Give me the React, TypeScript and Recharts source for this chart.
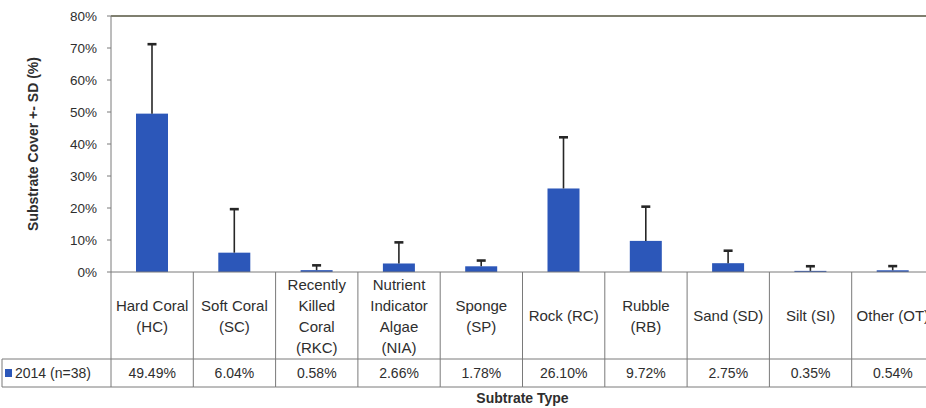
import { BarChart, Bar, XAxis, YAxis, ReferenceLine } from 'recharts'

// substrate categories, drawn as stacked lines in the table header row
const categoryLines: string[][] = [
  ['Hard Coral', '(HC)'],
  ['Soft Coral', '(SC)'],
  ['Recently', 'Killed', 'Coral', '(RKC)'],
  ['Nutrient', 'Indicator', 'Algae', '(NIA)'],
  ['Sponge', '(SP)'],
  ['Rock (RC)'],
  ['Rubble', '(RB)'],
  ['Sand (SD)'],
  ['Silt (SI)'],
  ['Other (OT)'],
]
const coverPct = [49.49, 6.04, 0.58, 2.66, 1.78, 26.10, 9.72, 2.75, 0.35, 0.54]
const sdPct = [21.7, 13.6, 1.5, 6.6, 1.8, 16.0, 10.7, 3.9, 1.45, 1.3]
const yTicks = [0, 10, 20, 30, 40, 50, 60, 70, 80]
const seriesName = '2014 (n=38)'

const data = categoryLines.map((lines, i) => ({
  name: lines.join(' '),
  lines,
  value: coverPct[i],
  sd: sdPct[i],
}))

const FONT = '"Liberation Sans", Arial, sans-serif'
const TEXT = '#2e2e2e'
const GRID = '#7a7a7a'
const BAR = '#2c57b9'

const W = 940
const H = 408
const PLOT_LEFT = 111
const PLOT_RIGHT = 934
const PLOT_TOP = 16
const PLOT_BOTTOM = 272
const HEAD_BOTTOM = 359
const TABLE_BOTTOM = 387
const BAND = (PLOT_RIGHT - PLOT_LEFT) / categoryLines.length

// bar plus an upward-only SD whisker, scaled from the bar's own pixel height
const BarWithSd = (props: any) => {
  const { x, y, width, height, payload } = props
  const perUnit = payload.value > 0 ? height / payload.value : 0
  const top = y - payload.sd * perUnit
  const cx = x + width / 2
  return (
    <g>
      <rect x={x} y={y} width={width} height={height} fill={BAR} />
      <line x1={cx} x2={cx} y1={y} y2={top} stroke="#262626" strokeWidth={1.6} />
      <line x1={cx - 4.5} x2={cx + 4.5} y1={top} y2={top} stroke="#262626" strokeWidth={2.6} />
    </g>
  )
}

// each x tick renders one column of the data table under the plot
const TableTick = (props: any) => {
  const { x, payload } = props
  const d = data[payload.index]
  const left = x - BAND / 2
  const right = x + BAND / 2
  const lineH = 21
  const headMid = (PLOT_BOTTOM + HEAD_BOTTOM) / 2
  const firstY = headMid - ((d.lines.length - 1) * lineH) / 2
  const valueY = (HEAD_BOTTOM + TABLE_BOTTOM) / 2
  return (
    <g fontFamily={FONT} fontSize={14} fill={TEXT}>
      {payload.index === 0 && (
        <g>
          <line x1={left} x2={left} y1={PLOT_BOTTOM} y2={TABLE_BOTTOM} stroke={GRID} />
          <line x1={2} x2={left} y1={HEAD_BOTTOM} y2={HEAD_BOTTOM} stroke={GRID} />
          <line x1={2} x2={left} y1={TABLE_BOTTOM} y2={TABLE_BOTTOM} stroke={GRID} />
          <line x1={2} x2={2} y1={HEAD_BOTTOM} y2={TABLE_BOTTOM} stroke={GRID} />
          <rect x={5} y={valueY - 4} width={7} height={8} fill={BAR} />
          <text x={15} y={valueY} dominantBaseline="central" textAnchor="start">
            {seriesName}
          </text>
        </g>
      )}
      <line x1={right} x2={right} y1={PLOT_BOTTOM} y2={TABLE_BOTTOM} stroke={GRID} />
      <line x1={left} x2={right} y1={HEAD_BOTTOM} y2={HEAD_BOTTOM} stroke={GRID} />
      <line x1={left} x2={right} y1={TABLE_BOTTOM} y2={TABLE_BOTTOM} stroke={GRID} />
      {d.lines.map((ln, i) => (
        <text
          key={i}
          x={x}
          y={firstY + i * lineH}
          textAnchor="middle"
          dominantBaseline="central"
          fontSize={15}
        >
          {ln}
        </text>
      ))}
      <text x={x} y={valueY} textAnchor="middle" dominantBaseline="central">
        {d.value.toFixed(2)}%
      </text>
    </g>
  )
}

export default function App() {
  return (
    <div style={{ width: 926, height: H, overflow: 'hidden', background: '#fff' }}>
      <style>{'body{margin:0;overflow:hidden;background:#fff}'}</style>
      <BarChart
        width={W}
        height={H}
        data={data}
        margin={{ top: PLOT_TOP, right: W - PLOT_RIGHT, bottom: 0, left: 0 }}
        barSize={32}
      >
        <YAxis
          width={PLOT_LEFT}
          domain={[0, 80]}
          ticks={yTicks}
          tickFormatter={(v) => `${v}%`}
          tickSize={4}
          tickMargin={10}
          tick={{ fontFamily: FONT, fontSize: 13.5, fill: TEXT }}
          axisLine={{ stroke: GRID }}
          tickLine={{ stroke: GRID }}
          label={{
            content: (p: any) => (
              <text
                x={33}
                y={p.viewBox.y + p.viewBox.height / 2}
                transform={`rotate(-90 33 ${p.viewBox.y + p.viewBox.height / 2})`}
                textAnchor="middle"
                dominantBaseline="central"
                fontFamily={FONT}
                fontSize={14}
                fontWeight="bold"
                fill={TEXT}
              >
                Substrate Cover +- SD (%)
              </text>
            ),
          }}
        />
        <XAxis
          dataKey="name"
          height={H - PLOT_BOTTOM}
          interval={0}
          tickLine={false}
          axisLine={{ stroke: GRID }}
          tick={<TableTick />}
          label={{
            content: (p: any) => (
              <text
                x={p.viewBox.x + p.viewBox.width / 2}
                y={398}
                textAnchor="middle"
                dominantBaseline="central"
                fontFamily={FONT}
                fontSize={14}
                fontWeight="bold"
                fill={TEXT}
              >
                Subtrate Type
              </text>
            ),
          }}
        />
        <ReferenceLine y={80} stroke="#55553f" strokeWidth={1.6} ifOverflow="visible" />
        <Bar dataKey="value" shape={<BarWithSd />} isAnimationActive={false} />
      </BarChart>
    </div>
  )
}
